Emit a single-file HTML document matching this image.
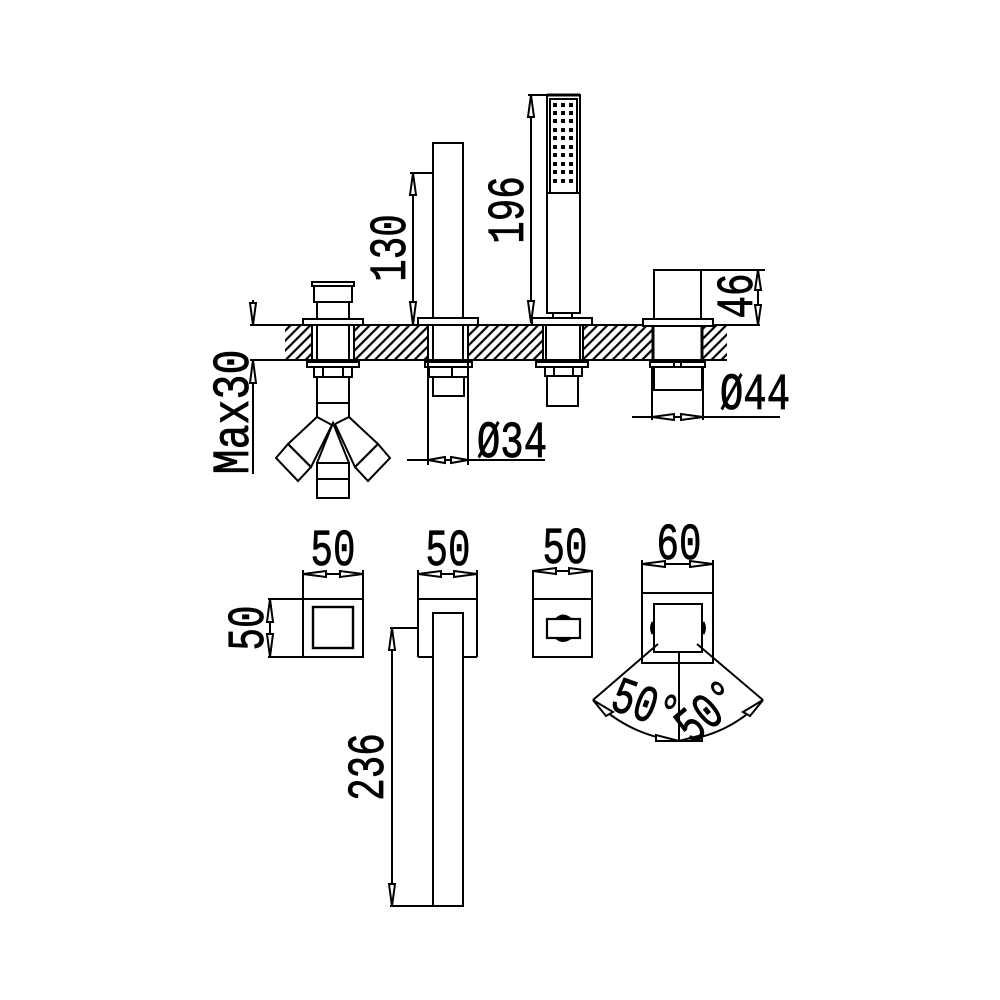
<!DOCTYPE html>
<html><head><meta charset="utf-8"><style>
html,body{margin:0;padding:0;background:#fff;}
svg{display:block;}
text{font-family:"Liberation Mono",monospace;fill:#000;stroke:#000;stroke-width:0.8;}
</style></head><body>
<svg width="1000" height="1000" viewBox="0 0 1000 1000" xmlns="http://www.w3.org/2000/svg">
<defs>
<pattern id="h" patternUnits="userSpaceOnUse" width="7" height="7" patternTransform="rotate(45)">
<line x1="1.5" y1="0" x2="1.5" y2="7" stroke="#000" stroke-width="2.2"/>
</pattern>
</defs>
<rect width="1000" height="1000" fill="#fff"/>
<g stroke="#000" stroke-width="2" fill="none">
<rect x="285" y="325" width="442" height="35" fill="url(#h)" stroke="none"/>
<rect x="312" y="325" width="42" height="35" fill="#fff" stroke="none"/>
<rect x="428" y="325" width="40" height="35" fill="#fff" stroke="none"/>
<rect x="543" y="325" width="40" height="35" fill="#fff" stroke="none"/>
<rect x="652" y="325" width="51" height="35" fill="#fff" stroke="none"/>
<line x1="250" y1="325" x2="760" y2="325"/>
<line x1="250" y1="360" x2="727" y2="360"/>

<rect x="312" y="282" width="42" height="4"/>
<rect x="314" y="286" width="38" height="16"/>
<line x1="317" y1="302" x2="317" y2="319"/><line x1="349" y1="302" x2="349" y2="319"/>
<rect x="303" y="319" width="60" height="6" fill="#fff"/>
<line x1="312" y1="325" x2="312" y2="360"/><line x1="354" y1="325" x2="354" y2="360"/>
<line x1="317" y1="325" x2="317" y2="360"/><line x1="349" y1="325" x2="349" y2="360"/>
<rect x="307" y="362" width="52" height="5"/>
<rect x="314" y="367" width="38" height="10"/>
<line x1="323" y1="367" x2="323" y2="377"/><line x1="343" y1="367" x2="343" y2="377"/>
<line x1="317" y1="377" x2="317" y2="417"/><line x1="349" y1="377" x2="349" y2="417"/>
<line x1="317" y1="403" x2="349" y2="403"/>
<polygon points="317,417 288,444 311,467 332,425"/>
<polygon points="288,444 276,458 298,481 311,467"/>
<polygon points="349,417 378,444 355,467 335,424"/>
<polygon points="378,444 390,458 368,481 355,467"/>
<polyline points="317,463 333,423 349,463"/>
<rect x="317" y="463" width="32" height="35"/>
<line x1="317" y1="479" x2="349" y2="479"/>

<line x1="253" y1="300" x2="253" y2="325"/>
<polygon points="253,325 250,303 256,303" fill="#fff"/>
<line x1="253" y1="360" x2="253" y2="474"/>
<polygon points="253,360 250,383 256,383" fill="#fff"/>

<rect x="433" y="143" width="30" height="175"/>
<line x1="410" y1="173" x2="433" y2="173"/>
<rect x="418" y="318" width="60" height="7" fill="#fff"/>
<line x1="428" y1="325" x2="428" y2="360"/><line x1="468" y1="325" x2="468" y2="360"/>
<line x1="433" y1="325" x2="433" y2="360"/><line x1="463" y1="325" x2="463" y2="360"/>
<rect x="425" y="362" width="47" height="5"/>
<rect x="429" y="367" width="39" height="10"/>
<line x1="452" y1="367" x2="452" y2="377"/>
<path d="M433 377 V396 H464 V377"/>
<line x1="428" y1="362" x2="428" y2="465"/><line x1="468" y1="362" x2="468" y2="465"/>
<line x1="407" y1="460" x2="545" y2="460"/>
<polygon points="428,460 445,457 445,463" fill="#fff"/>
<polygon points="468,460 451,457 451,463" fill="#fff"/>
<line x1="413" y1="173" x2="413" y2="323"/>
<polygon points="413,173 410,195 416,195" fill="#fff"/>
<polygon points="413,325 410,302 416,302" fill="#fff"/>

<rect x="547" y="95" width="33" height="218"/>
<rect x="550" y="99" width="27" height="94"/>
<line x1="547" y1="193" x2="580" y2="193"/>
<line x1="547" y1="95" x2="580" y2="95" stroke-width="3"/>
<rect x="553" y="313" width="19" height="5"/>
<rect x="532" y="318" width="60" height="7" fill="#fff"/>
<line x1="543" y1="325" x2="543" y2="360"/><line x1="583" y1="325" x2="583" y2="360"/>
<line x1="546" y1="325" x2="546" y2="360"/><line x1="580" y1="325" x2="580" y2="360"/>
<rect x="536" y="362" width="52" height="5"/>
<rect x="545" y="367" width="37" height="9"/>
<line x1="554" y1="367" x2="554" y2="376"/><line x1="573" y1="367" x2="573" y2="376"/>
<rect x="547" y="376" width="31" height="30"/>
<line x1="531" y1="95" x2="531" y2="322"/>
<line x1="528" y1="95" x2="547" y2="95"/>
<polygon points="531,95 528,117 534,117" fill="#fff"/>
<polygon points="531,323 528,301 534,301" fill="#fff"/>

<rect x="654" y="270" width="47" height="49"/>
<line x1="701" y1="270" x2="765" y2="270"/>
<rect x="643" y="319" width="70" height="7" fill="#fff"/>
<line x1="653" y1="325" x2="653" y2="360" stroke-width="3"/><line x1="702" y1="325" x2="702" y2="360" stroke-width="3"/>
<rect x="650" y="362" width="55" height="5"/>
<line x1="674" y1="362" x2="674" y2="367"/><line x1="681" y1="362" x2="681" y2="367"/>
<path d="M654 367 V390 H702 V367"/>
<line x1="652" y1="367" x2="652" y2="420"/><line x1="703" y1="367" x2="703" y2="420"/>
<line x1="632" y1="417" x2="780" y2="417"/>
<polygon points="652,417 674,414 674,420" fill="#fff"/>
<polygon points="703,417 681,414 681,420" fill="#fff"/>
<line x1="758" y1="270" x2="758" y2="325"/>
<polygon points="758,270 755,290 761,290" fill="#fff"/>
<polygon points="758,325 755,305 761,305" fill="#fff"/>

<rect x="303" y="599" width="60" height="58"/>
<rect x="313" y="607" width="40" height="41" stroke-width="2.4"/>
<line x1="303" y1="570" x2="303" y2="599"/><line x1="363" y1="570" x2="363" y2="599"/>
<line x1="303" y1="574" x2="363" y2="574"/>
<polygon points="303,574 326,571 326,577" fill="#fff"/>
<polygon points="363,574 340,571 340,577" fill="#fff"/>
<line x1="268" y1="599" x2="303" y2="599"/><line x1="268" y1="657" x2="303" y2="657"/>
<line x1="270" y1="599" x2="270" y2="657"/>
<polygon points="270,599 267,622 273,622" fill="#fff"/>
<polygon points="270,657 267,634 273,634" fill="#fff"/>

<path d="M418 657 V599 H477 V657"/>
<rect x="433" y="613" width="30" height="293"/>
<line x1="418" y1="657" x2="433" y2="657"/><line x1="463" y1="657" x2="477" y2="657"/>
<line x1="418" y1="570" x2="418" y2="599"/><line x1="477" y1="570" x2="477" y2="599"/>
<line x1="418" y1="574" x2="477" y2="574"/>
<polygon points="418,574 441,571 441,577" fill="#fff"/>
<polygon points="477,574 454,571 454,577" fill="#fff"/>
<line x1="390" y1="628" x2="418" y2="628"/>
<line x1="392" y1="628" x2="392" y2="906"/>
<line x1="390" y1="906" x2="433" y2="906"/>
<polygon points="392,628 389,650 395,650" fill="#fff"/>
<polygon points="392,906 389,884 395,884" fill="#fff"/>

<rect x="533" y="599" width="59" height="58"/>
<rect x="547" y="619" width="33" height="19" stroke-width="2.2"/>
<path d="M556 619 Q563 612 571 619" fill="#000"/>
<path d="M556 638 Q563 644 571 638" fill="#000"/>
<line x1="533" y1="570" x2="533" y2="599"/><line x1="592" y1="570" x2="592" y2="599"/>
<line x1="533" y1="571" x2="592" y2="571"/>
<polygon points="533,571 556,568 556,574" fill="#fff"/>
<polygon points="592,571 569,568 569,574" fill="#fff"/>

<rect x="642" y="593" width="71" height="70"/>
<rect x="654" y="604" width="48" height="48"/>
<path d="M653 622 Q650 628 653 634" stroke-width="3"/>
<path d="M703 622 Q706 628 703 634" stroke-width="3"/>
<line x1="642" y1="560" x2="642" y2="593"/><line x1="713" y1="560" x2="713" y2="593"/>
<line x1="642" y1="564" x2="713" y2="564"/>
<polygon points="642,564 665,561 665,567" fill="#fff"/>
<polygon points="713,564 690,561 690,567" fill="#fff"/>
<line x1="679" y1="652" x2="679" y2="741"/>
<line x1="658" y1="644" x2="593" y2="700"/>
<line x1="697" y1="644" x2="763" y2="700"/>
<path d="M593 700 Q630 736 679 741 Q728 736 763 700"/>
<polygon points="593,700 613,712 606,716" fill="#fff"/>
<polygon points="763,700 743,712 750,716" fill="#fff"/>
<polygon points="679,741 656,735 656,741" fill="#fff"/>
<polygon points="679,741 702,735 702,741" fill="#fff"/>
</g>

<g fill="#000">
<rect x="553" y="103" width="4" height="4"/><rect x="561" y="103" width="4" height="4"/><rect x="569" y="103" width="4" height="4"/>
<rect x="553" y="111" width="4" height="4"/><rect x="561" y="111" width="4" height="4"/><rect x="569" y="111" width="4" height="4"/>
<rect x="553" y="119" width="4" height="4"/><rect x="561" y="119" width="4" height="4"/><rect x="569" y="119" width="4" height="4"/>
<rect x="553" y="128" width="4" height="4"/><rect x="561" y="128" width="4" height="4"/><rect x="569" y="128" width="4" height="4"/>
<rect x="553" y="136" width="4" height="4"/><rect x="561" y="136" width="4" height="4"/><rect x="569" y="136" width="4" height="4"/>
<rect x="553" y="145" width="4" height="4"/><rect x="561" y="145" width="4" height="4"/><rect x="569" y="145" width="4" height="4"/>
<rect x="553" y="153" width="4" height="4"/><rect x="561" y="153" width="4" height="4"/><rect x="569" y="153" width="4" height="4"/>
<rect x="553" y="162" width="4" height="4"/><rect x="561" y="162" width="4" height="4"/><rect x="569" y="162" width="4" height="4"/>
<rect x="553" y="170" width="4" height="4"/><rect x="561" y="170" width="4" height="4"/><rect x="569" y="170" width="4" height="4"/>
<rect x="553" y="179" width="4" height="4"/><rect x="561" y="179" width="4" height="4"/><rect x="569" y="179" width="4" height="4"/>
</g>

<g font-size="52" text-anchor="middle">
<text transform="translate(405,248) rotate(-90) scale(0.72,1)">130</text>
<text transform="translate(523,210) rotate(-90) scale(0.72,1)">196</text>
<text transform="translate(752,296) rotate(-90) scale(0.72,1)">46</text>
<text transform="translate(248,412) rotate(-90) scale(0.8,1)">Max30</text>
<text transform="translate(512,457) scale(0.75,1)">Ø34</text>
<text transform="translate(755,409) scale(0.75,1)">Ø44</text>
<text transform="translate(333,565) scale(0.72,1)">50</text>
<text transform="translate(448,565) scale(0.72,1)">50</text>
<text transform="translate(565,563) scale(0.72,1)">50</text>
<text transform="translate(679,559) scale(0.72,1)">60</text>
<text transform="translate(263,628) rotate(-90) scale(0.72,1)">50</text>
<text transform="translate(383,767) rotate(-90) scale(0.72,1)">236</text>
<text transform="translate(640,720) rotate(20) scale(0.72,1)">50°</text>
<text transform="translate(718,724) rotate(-40) scale(0.72,1)">50°</text>
</g>
</svg>
</body></html>
